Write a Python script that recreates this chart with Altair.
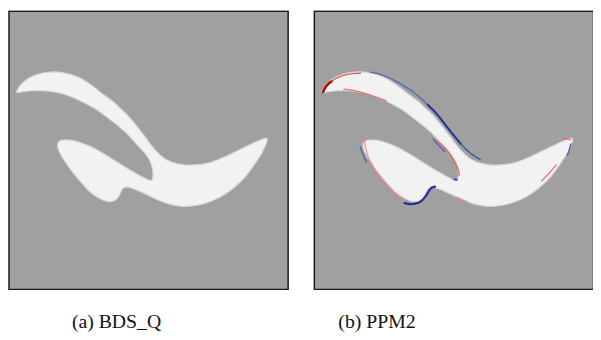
import altair as alt

# ---------------- data (reference pixel coordinates) ----------------
# Outline of the white shape in panel (a), clockwise from the left tip
SHAPE_OUTLINE = [
    (11.7, 86.5), (13.5, 82.5), (16, 79), (19, 76), (23, 73), (28, 70.2), (33, 68.3),
    (38.5, 66.8), (44, 66), (49.5, 65.6), (55, 65.8), (60.5, 66.6), (66, 67.8), (72, 69.8),
    (78, 72.3), (85, 76.5), (92, 81.5), (100, 88), (105, 91.5), (111.7, 96.5), (118, 102.5),
    (125, 109), (130, 114.5), (135, 120.5), (140, 127), (145, 133.5), (150, 140.5),
    (155, 146.5), (160, 151.5), (165, 155.5), (171, 158.5), (178.3, 160.5), (185, 161.6),
    (191.7, 161.8), (198, 161.4), (205, 160.6), (212, 159), (218.3, 156.8), (225, 154),
    (231.7, 151), (238, 147.8), (245, 144.4), (252, 141), (258.3, 138), (263, 136),
    (266.5, 134.6), (269, 134), (270.6, 134.8), (270.3, 137), (268.8, 141), (266.5, 146),
    (264, 151), (261, 155.5), (258, 160), (253.5, 166.3), (248.3, 173.3), (242, 179.8),
    (235, 186), (228, 191), (221.7, 195), (213, 198.8), (205, 201.7), (197, 203.5),
    (188.3, 204.3), (181, 204.2), (175, 203.3), (168, 201.6), (161.7, 199.3), (155, 196.5),
    (148.3, 193.3), (141.7, 190.2), (135, 187.3), (130, 185.3), (126, 184.3), (123, 184.6),
    (121, 186.3), (119.3, 189.5), (117.5, 193.5), (115, 197), (111.5, 199), (107, 199.5),
    (102.5, 198.6), (97.5, 196.3), (92, 193), (86.5, 188.5), (81.7, 183.3), (76.5, 177.5),
    (71.7, 171.7), (66.5, 165), (62, 158.5), (58.3, 152.5), (55.5, 147), (54.2, 143),
    (54.3, 139.8), (55.5, 137.6), (57.5, 136.5), (60.5, 135.9), (64, 135.8), (68, 136.1),
    (72.5, 136.9), (77.5, 138.5), (83, 140.5), (88.3, 142.7), (95, 146.2), (101.7, 150),
    (108, 154), (115, 158.3), (121.5, 162.4), (128.3, 166.7), (135, 170.5), (141, 173.8),
    (145.5, 176.2), (148.8, 177.6), (150.8, 177.7), (152, 176.4), (152.6, 173.5),
    (152.6, 170), (152.1, 166), (151, 161.7), (149, 156.5), (146, 151.7), (142, 147),
    (137.7, 142.5), (131.5, 135.5), (125, 128.5), (117.5, 122), (110, 116.2), (102.5, 110.5),
    (95, 105), (87.5, 100.5), (80, 96.7), (72.5, 93), (65, 90), (57.5, 87.7), (50, 86.2),
    (42.5, 85.3), (35, 85), (28, 85.1), (22, 85.6), (17, 86.3), (13.8, 87),
]

PANEL_A = (4, 3, 292, 290)      # x0, y0, x1, y1 of panel (a)
PANEL_SHIFT = 315               # panel (b) is panel (a) shifted right

CAPTIONS = ["(a) BDS_Q", "(b) PPM2"]

# Error strokes drawn on panel (b): (colour, width, points)
RED_SEGMENTS = [
    ("#b00000", 2.6, [(328, 86.5), (329.5, 83), (331.5, 80), (334, 77.5), (337, 75.3)]),
    ("#e05858", 1.4, [(337, 75.3), (341, 72.6), (346, 70.3), (352, 68.5), (359, 67.4), (366.7, 67)]),
    ("#e87070", 1.2, [(349.5, 83.5), (358, 84.5), (366, 86.3), (375, 89), (384, 92), (393.3, 95.5)]),
    ("#f08a8a", 1.0, [(370, 136.5), (374, 135.3), (378, 135)]),
    ("#f08080", 1.1, [(370.5, 137), (371.5, 142), (373.3, 150), (377, 159), (383.3, 170),
                      (390, 179), (396.7, 186.7), (403, 192), (410, 196.5)]),
    ("#e86060", 1.3, [(445.5, 136.7), (452, 142), (458, 149), (462.5, 156), (466.3, 163.3),
                      (468, 168), (468.5, 172.5)]),
    ("#f08080", 1.1, [(466.7, 195), (471, 197.5), (476.7, 199.5)]),
    ("#e86868", 1.3, [(568.5, 161.5), (564, 167), (559, 172.5), (553.3, 178.3)]),
    ("#e86868", 1.3, [(576.5, 135), (580, 134.5), (583.5, 135.5)]),
]

BLUE_SEGMENTS = [
    ("#5068b0", 1.3, [(376.7, 65.8), (385, 67.5), (393, 70.5), (400, 73.5), (410, 79),
                      (420, 85.5), (428, 92), (436, 99.5)]),
    ("#1c2c98", 2.0, [(436, 99.5), (442, 105.5), (447, 111), (452, 117.5), (457, 124),
                      (462, 130), (466, 135), (470, 140)]),
    ("#4058a8", 1.5, [(470, 140), (474, 144), (480, 149.5), (486, 153.5), (490, 156)]),
    ("#4a60b0", 1.4, [(441.7, 135), (445, 139), (449, 143), (453.3, 147.5)]),
    ("#4a60b0", 1.4, [(366.5, 143), (368.5, 149), (370.5, 154), (373, 158.5)]),
    ("#1c2c98", 2.2, [(412, 201), (417, 202), (422, 201.8), (427, 200.5), (431, 197.5),
                      (434.5, 193), (437.5, 188), (440, 185), (443.5, 184)]),
    ("#3048a0", 2.0, [(463.5, 176.5), (466, 177)]),
    ("#4a60b0", 1.4, [(583.5, 140), (582.5, 144), (581.5, 148), (580, 151.5)]),
]

# ---------------- build GeoJSON features ----------------
def polygon(points, dx=0.0):
    ring = [[x + dx, y] for x, y in points]
    ring.append(ring[0])
    return {"type": "Feature", "properties": {}, "geometry": {"type": "Polygon", "coordinates": [ring]}}

def line(points, color, width):
    return {"type": "Feature", "properties": {"c": color, "w": width},
            "geometry": {"type": "LineString", "coordinates": [[x, y] for x, y in points]}}

x0, y0, x1, y1 = PANEL_A
panel_pts = [(x0, y0), (x1, y0), (x1, y1), (x0, y1)]
panels = [polygon(panel_pts), polygon(panel_pts, PANEL_SHIFT)]
shapes = [polygon(SHAPE_OUTLINE), polygon(SHAPE_OUTLINE, PANEL_SHIFT)]
strokes = [line(p, c, w) for c, w, p in RED_SEGMENTS + BLUE_SEGMENTS]

# projection: reference pixel -> view pixel (view starts at page offset 8)
S = 0.9826
PROJ = dict(type="identity", scale=S, translate=[-2.93, -1.95])

panel_layer = alt.Chart(alt.Data(values=panels)).mark_geoshape(
    fill="#a0a0a0", stroke="#1a1a1a", strokeWidth=1.5
).project(**PROJ)

shape_layer = alt.Chart(alt.Data(values=shapes)).mark_geoshape(
    fill="#f2f2f2", stroke="#d6d6d6", strokeWidth=1.2
).project(**PROJ)

stroke_layer = alt.Chart(alt.Data(values=strokes)).mark_geoshape(
    filled=False, strokeCap="round", strokeJoin="round", opacity=0.95
).encode(
    stroke=alt.Stroke("properties.c:N", scale=None),
    strokeWidth=alt.StrokeWidth("properties.w:Q", scale=None),
).project(**PROJ)

cap_a = alt.Chart(alt.Data(values=[{"t": CAPTIONS[0]}])).mark_text(
    font="Liberation Serif", fontSize=20, color="#111111", align="center", baseline="alphabetic"
).encode(text="t:N", x=alt.value(110), y=alt.value(322))

cap_b = alt.Chart(alt.Data(values=[{"t": CAPTIONS[1]}])).mark_text(
    font="Liberation Serif", fontSize=20, color="#111111", align="center", baseline="alphabetic"
).encode(text="t:N", x=alt.value(374), y=alt.value(322))

chart = alt.layer(panel_layer, shape_layer, stroke_layer, cap_a, cap_b).properties(
    width=593, height=324, padding=0,
    autosize=alt.AutoSizeParams(type="none"),
    background="white",
).configure_view(strokeOpacity=0)

chart.save("out.html", embed_options={"renderer": "svg", "actions": False})
